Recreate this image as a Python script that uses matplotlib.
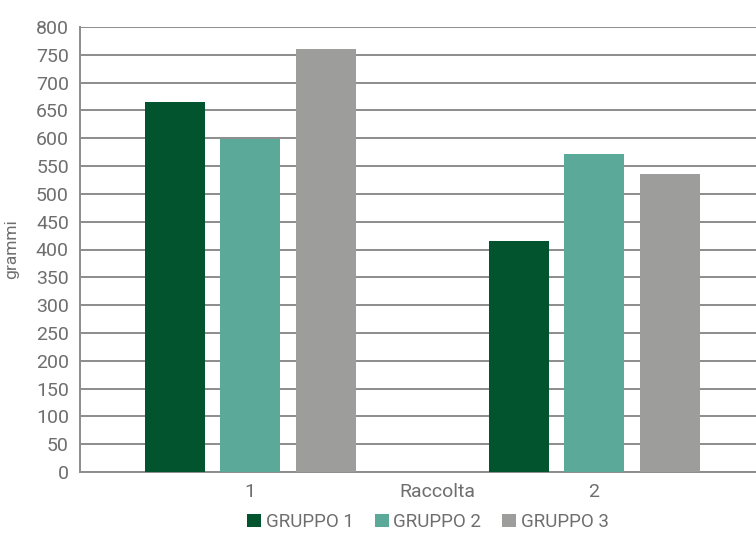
import matplotlib
matplotlib.use("Agg")
import matplotlib.pyplot as plt
import numpy as np

categories = ["1", "2"]
series_names = ["GRUPPO 1", "GRUPPO 2", "GRUPPO 3"]
gruppo1 = [666, 416]
gruppo2 = [598, 572]
gruppo3 = [760, 535]
yticks = list(range(0, 801, 50))
colors = ["#02542f", "#5aa999", "#9d9d9c"]

plt.rcParams['font.family'] = ['Roboto', 'DejaVu Sans']
plt.rcParams['font.weight'] = 'normal'

txt = '#6e6e6e'
fig = plt.figure(figsize=(7.56, 5.36), dpi=100)
ax = fig.add_axes([80/756, (536-472)/536, (756-80)/756, (472-27)/536])

x = np.arange(len(categories))
w = 0.174
offs = [-0.219, 0.0, 0.221]
for vals, off, c, name in zip([gruppo1, gruppo2, gruppo3], offs, colors, series_names):
    ax.bar(x + off, vals, width=w, color=c, label=name, zorder=3)

ax.set_xlim(-0.494, 1.471)
ax.set_ylim(0, 800)
ax.set_yticks(yticks)
ax.set_yticklabels([str(v) for v in yticks])
ax.set_xticks(x)
ax.set_xticklabels(categories)
ax.grid(axis='y', color='#8c8c8c', linewidth=1.4, zorder=0)
for s in ['top', 'right']:
    ax.spines[s].set_visible(False)
for s in ['left', 'bottom']:
    ax.spines[s].set_color('#8c8c8c')
    ax.spines[s].set_linewidth(1.4)
ax.tick_params(axis='both', length=0, labelsize=14, colors=txt, pad=8)
ax.tick_params(axis='x', pad=8)
ax.set_ylabel("grammi", fontsize=12.5, color=txt, labelpad=12)
ax.text(0.528, -0.0245, "Raccolta", transform=ax.transAxes, ha='center', va='top',
        fontsize=14, color=txt)

leg = fig.legend(loc='center', bbox_to_anchor=(428/756, 1 - 522/536), ncol=3, frameon=False,
                 fontsize=13.5, handlelength=0.75, handleheight=0.75, handletextpad=0.25,
                 columnspacing=1.1, labelcolor=txt)

fig.savefig("out.png", dpi=100)
